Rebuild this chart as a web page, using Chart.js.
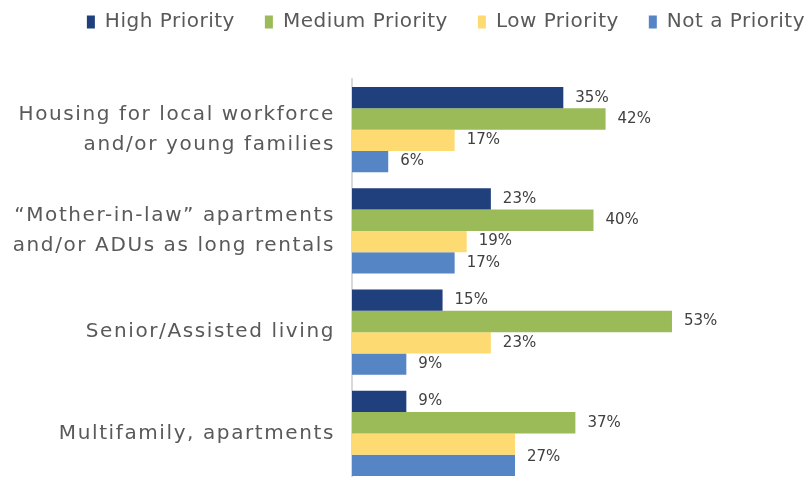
<!DOCTYPE html>
<html>
<head>
<meta charset="utf-8">
<script src="https://cdn.jsdelivr.net/npm/chart.js@4"></script>
<style>
  html, body { margin: 0; padding: 0; background: #fff; overflow: hidden; width: 808px; height: 477px; }
  #c { position: absolute; left: 0; top: -18px; width: 835px; height: 502px; }
</style>
</head>
<body>
<canvas id="c" width="835" height="502"></canvas>
<script>
// Housing types and how residents ranked them (percent of respondents)
const categories = [
  ['Housing for local workforce', 'and/or young families'],
  ['\u201cMother-in-law\u201d apartments', 'and/or ADUs as long rentals'],
  'Senior/Assisted living',
  'Multifamily, apartments'
];
const seriesNames = ['High Priority', 'Medium Priority', 'Low Priority', 'Not a Priority'];
const highPriority   = [35, 23, 15, 9];
const mediumPriority = [42, 40, 53, 37];
const lowPriority    = [17, 19, 23, 27];
const notAPriority   = [6, 17, 9, 27];
// value labels left off the chart: [series index, category index]
const unlabelled = [[2, 3]];

const seriesValues = [highPriority, mediumPriority, lowPriority, notAPriority];
const seriesColors = ['#203f7d', '#9bbb59', '#fedb72', '#5585c5'];
const FONT = 'DejaVu Sans';

// wider tracking for the legend text, and extra room below the legend
const legendStyle = {
  id: 'legendStyle',
  beforeInit(chart) {
    const legend = chart.legend;
    const ctx = chart.ctx;
    const fit = legend.fit;
    const draw = legend.draw;
    legend.fit = function () {
      ctx.letterSpacing = '0.5px';
      fit.call(this);
      ctx.letterSpacing = '0px';
      this.height += 37;
    };
    legend.draw = function () {
      const prev = ctx.letterSpacing;
      ctx.letterSpacing = '0.5px';
      draw.call(this);
      ctx.letterSpacing = prev;
    };
  },
  // category labels on the y axis are set with looser tracking
  beforeDraw(chart) { chart.ctx.letterSpacing = '1.6px'; },
  beforeDatasetsDraw(chart) { chart.ctx.letterSpacing = '0px'; }
};

// percentage labels just past the end of each bar
const valueLabels = {
  id: 'valueLabels',
  afterDatasetsDraw(chart, args, opts) {
    const ctx = chart.ctx;
    ctx.save();
    ctx.letterSpacing = '0px';
    ctx.font = '15px "' + FONT + '"';
    ctx.fillStyle = '#404040';
    ctx.textAlign = 'left';
    ctx.textBaseline = 'middle';
    chart.data.datasets.forEach((ds, di) => {
      chart.getDatasetMeta(di).data.forEach((bar, i) => {
        if (unlabelled.some(([s, c]) => s === di && c === i)) return;
        const shift = (opts.shifts || []).find(s => s.series === di && s.index === i);
        ctx.fillText(ds.data[i] + '%', bar.x + 12, bar.y + (shift ? shift.dy : 0));
      });
    });
    ctx.restore();
  }
};

new Chart(document.getElementById('c'), {
  type: 'bar',
  data: {
    labels: categories,
    datasets: seriesNames.map((name, i) => ({
      label: name,
      data: seriesValues[i],
      backgroundColor: seriesColors[i],
      borderWidth: 0,
      categoryPercentage: 0.84,
      barPercentage: 1
    }))
  },
  options: {
    indexAxis: 'y',
    responsive: false,
    animation: false,
    layout: { padding: 0 },
    plugins: {
      legend: {
        position: 'top',
        align: 'end',
        labels: {
          boxWidth: 8,
          boxHeight: 13,
          padding: 30,
          color: '#595959',
          font: { family: FONT, size: 20 }
        }
      },
      tooltip: { enabled: false },
      // the last label sits a little higher, between its bar and the one above
      valueLabels: { shifts: [{ series: 3, index: 3, dy: -8 }] }
    },
    scales: {
      x: { display: false, min: 0, max: 80 },
      y: {
        grid: { display: false, drawTicks: false },
        border: { display: true, color: '#d9d9d9', width: 2 },
        ticks: {
          color: '#595959',
          padding: 17,
          font: { family: FONT, size: 20, lineHeight: 1.5 }
        },
        afterFit(scale) {
          scale.width = 352;
          scale.paddingTop = 0;
          scale.paddingBottom = 0;
        }
      }
    }
  },
  plugins: [legendStyle, valueLabels]
});
</script>
</body>
</html>
